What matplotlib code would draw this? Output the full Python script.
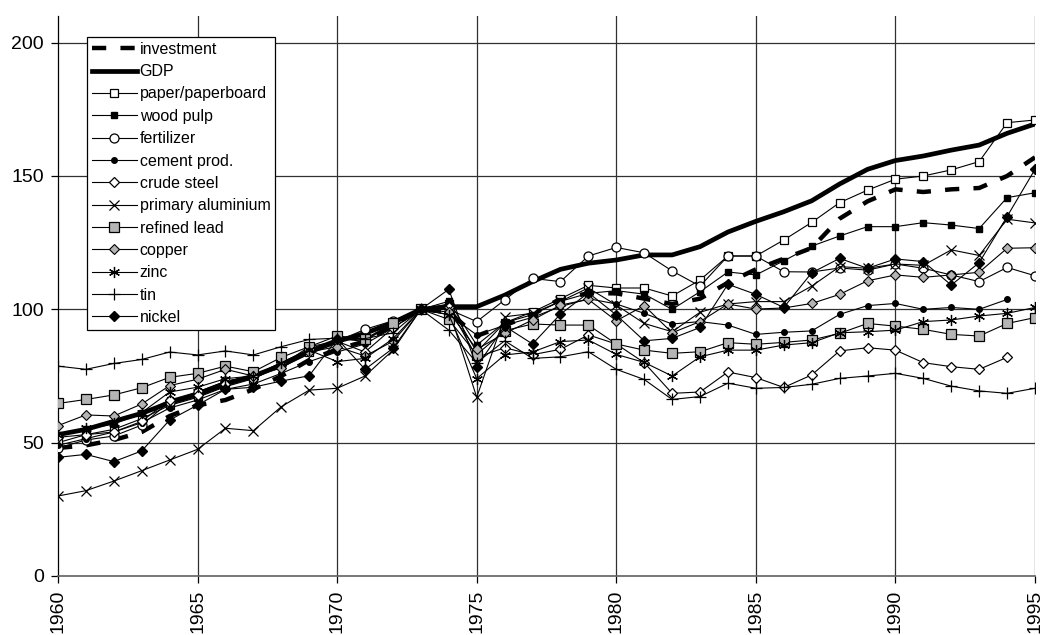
import matplotlib
matplotlib.use("Agg")
import matplotlib.pyplot as plt
import numpy as np

years = list(range(1960, 1996))

investment = [48, 49, 51, 54, 60, 64, 66, 70, 75, 81, 85, 88, 94, 100, 99, 90, 94, 98, 104, 106,
              106, 104, 102, 104, 110, 115, 119, 123, 134, 140.5, 145, 144, 145, 145.5, 150, 157]
gdp = [53, 55, 58, 61, 65, 68, 72, 75, 79, 84, 88, 91, 95, 100, 101, 101, 105.3, 110.4, 115, 117.3,
       118.5, 120.4, 120.4, 123.5, 129, 133, 136.6, 140.7, 147, 152.5, 155.8, 157.5, 159.7, 161.6, 166, 169.5]
paper = [50, 53, 55, 59, 64, 67, 71, 74, 79, 84, 89, 88.5, 95, 100, 102, 84, 95, 99, 104, 109,
         108, 108, 105, 111, 120, 120, 126, 132.6, 140, 144.7, 148.8, 150, 152.3, 155.4, 170, 171]
wood_pulp = [53, 55, 57, 61, 66, 69, 73, 75, 80, 85, 89, 88, 95, 100, 103, 86.6, 95, 98, 103, 106,
             107, 105.7, 100, 106.6, 114, 112.9, 118.2, 123.7, 127.5, 131, 131, 132.5, 131.6, 130.3, 141.9, 143.7]
fertilizer = [48, 51, 52.5, 56.6, 65.4, 69, 73, 75, 80, 85, 88, 92.5, 95.7, 100, 100, 95.4, 103.5, 111.6, 110.4, 120,
              123.2, 121.2, 114.4, 108.7, 120, 120, 114.1, 114, 115.5, 114.7, 117, 115.4, 112.9, 110.4, 115.7, 112.6]
cement = [49, 51.5, 54, 57.5, 63, 66, 70, 72, 76, 80.4, 84, 87, 93, 100, 98, 90.4, 94, 97, 101, 104,
          102, 98.5, 94.5, 95.4, 94.1, 90.6, 91.4, 91.9, 98.1, 101.4, 102.2, 100, 100.7, 100, 103.7, np.nan]
crude_steel = [52, 53, 54, 58, 66, 68, 72, 74, 79, 86, 88, 84, 93, 100, 101, 82, 85.6, 83, 85, 90.4,
               87, 80, 68.5, 69, 76.5, 74.4, 70.7, 75.4, 84.4, 85.6, 84.7, 80, 78.5, 77.5, 82, np.nan]
aluminium = [30, 32, 35.6, 39.5, 43.5, 47.5, 55.4, 54.5, 63.5, 69.7, 70.4, 75, 84.7, 100, 100, 67, 97.2, 98.5, 103, 108,
             101.6, 94.7, 91.6, 98.9, 102, 102.9, 102.9, 108.7, 116, 115.4, 117, 116.5, 122.3, 120.2, 133.8, 132.4]
lead = [64.7, 66.2, 67.9, 70.6, 74.5, 76, 78.7, 76.6, 82, 86, 90, 89, 94.7, 100, 96.2, 83, 92, 94.5, 94.1, 94.1,
        87, 84.7, 83.5, 84.1, 87.5, 86.9, 87.6, 88.5, 91, 94.7, 93.7, 92.5, 90.6, 90, 94.7, 96.9]
copper = [56.4, 60.4, 60, 64.5, 71.4, 73.8, 77.5, 75, 78, 84, 86, 82.5, 88, 100, 99, 85, 91, 96, 101.6, 103.7,
          95.7, 101.4, 91.2, 95.4, 102, 100.1, 100.5, 102.2, 105.6, 110.7, 112.9, 112, 112.9, 113.9, 122.9, 123.1]
zinc = [53, 55.4, 57.5, 61.3, 69, 70.8, 74, 75, 80, 84.7, 80.4, 81.6, 89, 100, 98, 74, 82.9, 84, 87.9, 88.5,
        83.1, 80.1, 75, 82.2, 84.7, 84.7, 86.6, 87.5, 91.2, 91.6, 92.2, 95.4, 96, 97.5, 98.5, 100.7]
tin = [78.7, 77.5, 79.7, 81.2, 84, 82.9, 84.4, 82.9, 86, 88.7, 89.2, 89, 91.2, 100, 92.2, 80, 88.2, 81.6, 82.2, 84.1,
       77.5, 73.7, 66.2, 67.3, 72.3, 70.4, 70.7, 71.9, 74.1, 75, 76, 74.1, 71.2, 69.4, 68.5, 70.4]
nickel = [44.5, 45.6, 42.9, 46.9, 58.5, 64.1, 70, 70.8, 73.1, 75.1, 89, 77.5, 85.4, 100, 107.5, 78.5, 93.7, 87, 98.2, 106.2,
          97.9, 88.2, 89.1, 93.2, 109.4, 105.6, 100.7, 113.7, 119.1, 115.4, 118.9, 117.9, 109.1, 117.5, 134.8, 152.5]

y_ticks = [0, 50, 100, 150, 200]
x_ticks = [1960, 1965, 1970, 1975, 1980, 1985, 1990, 1995]

plt.rcParams['font.family'] = ['Liberation Sans', 'DejaVu Sans']

fig = plt.figure(figsize=(10.42, 6.35), dpi=100)
ax = fig.add_axes([58 / 1042, 1 - 576 / 635, (1035 - 58) / 1042, (576 - 16) / 635])

grid_color = '#303030'
for yv in y_ticks[1:]:
    ax.axhline(yv, color=grid_color, lw=0.9, zorder=0)
for xv in x_ticks[1:]:
    ax.axvline(xv, color=grid_color, lw=0.9, zorder=0)

gray = '#b4b4b4'
thin = 0.8
ax.plot(years, investment, color='black', lw=3.2, linestyle=(0, (3.2, 3.2)), label='investment', zorder=2)
ax.plot(years, gdp, color='black', lw=3.4, label='GDP', zorder=2)
ax.plot(years, paper, color='black', lw=thin, marker='s', ms=6, mfc='white', mec='black', mew=0.9, label='paper/paperboard', zorder=3)
ax.plot(years, wood_pulp, color='black', lw=thin, marker='s', ms=4, mfc='black', mec='black', label='wood pulp', zorder=3)
ax.plot(years, fertilizer, color='black', lw=thin, marker='o', ms=6.5, mfc='white', mec='black', mew=0.9, label='fertilizer', zorder=3)
ax.plot(years, cement, color='black', lw=thin, marker='o', ms=4, mfc='black', mec='black', label='cement prod.', zorder=3)
ax.plot(years, crude_steel, color='black', lw=thin, marker='D', ms=5, mfc='white', mec='black', mew=0.9, label='crude steel', zorder=3)
ax.plot(years, aluminium, color='black', lw=thin, marker='x', ms=7, mec='black', mew=0.9, label='primary aluminium', zorder=3)
ax.plot(years, lead, color='black', lw=thin, marker='s', ms=7, mfc=gray, mec='black', mew=0.9, label='refined lead', zorder=3)
ax.plot(years, copper, color='black', lw=thin, marker='D', ms=5, mfc=gray, mec='black', mew=0.8, label='copper', zorder=3)
ax.plot(years, zinc, color='black', lw=thin, marker=(6, 2, 0), ms=8, mec='black', mew=0.9, label='zinc', zorder=3)
ax.plot(years, tin, color='black', lw=thin, marker='+', ms=8, mec='black', mew=0.9, label='tin', zorder=3)
ax.plot(years, nickel, color='black', lw=thin, marker='D', ms=5.5, mfc='black', mec='black', label='nickel', zorder=3)

ax.set_xlim(1960, 1995)
ax.set_ylim(0, 210)
ax.set_yticks(y_ticks)
ax.set_xticks(x_ticks)
ax.set_xticklabels([str(x) for x in x_ticks], rotation=90, fontsize=14)
ax.set_yticklabels([str(y) for y in y_ticks], fontsize=14)
ax.tick_params(axis='both', direction='out', length=5, width=0.9, color='black', pad=5)

for s in ['top', 'right']:
    ax.spines[s].set_visible(False)
ax.spines['left'].set_color('black')
ax.spines['left'].set_linewidth(0.9)
ax.spines['bottom'].set_color('#606060')
ax.spines['bottom'].set_linewidth(1.2)

leg = ax.legend(loc='upper left', bbox_to_anchor=((87 - 58) / 977, (576 - 37) / 560),
                borderaxespad=0, fontsize=11.5, frameon=True, fancybox=False,
                edgecolor='black', framealpha=1, numpoints=1, handlelength=2.8,
                handletextpad=0.2, labelspacing=0.46, borderpad=0.3)
leg.get_frame().set_linewidth(0.9)
leg.set_zorder(10)

fig.savefig('out.png', dpi=100, facecolor='white')
